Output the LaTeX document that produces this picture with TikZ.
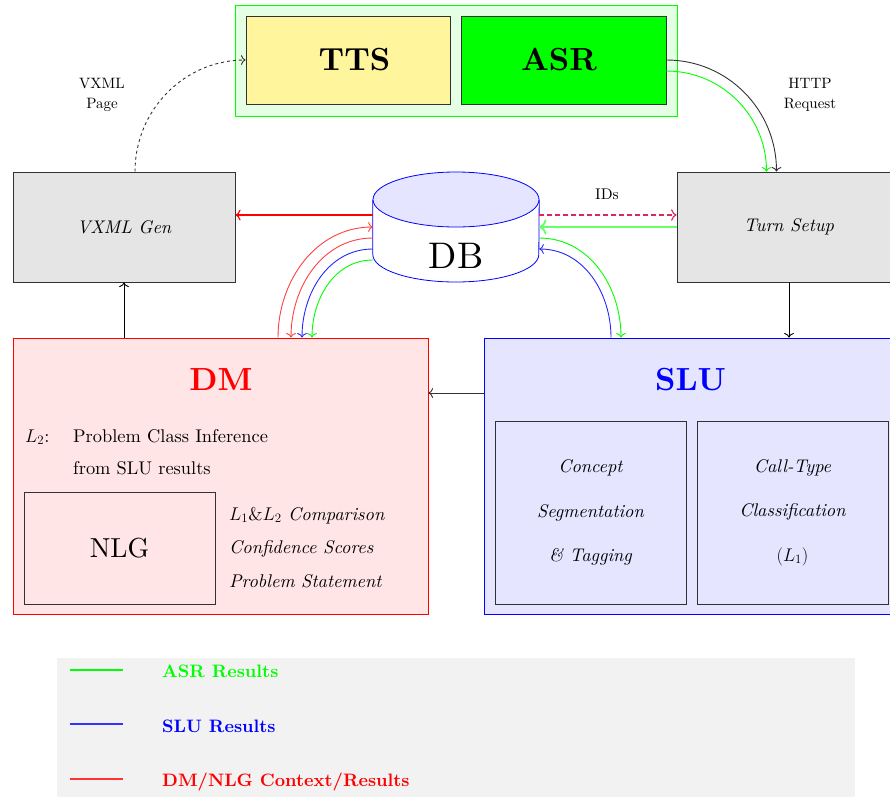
\RequirePackage{fix-cm}
\documentclass[tikz,border=0pt]{standalone}
\usepackage{fontspec}
\setmainfont{lmroman10-regular.otf}[
  BoldFont=lmroman10-bold.otf,
  ItalicFont=lmroman10-italic.otf,
  BoldItalicFont=lmroman10-bolditalic.otf]
\usetikzlibrary{calc,arrows.meta}
\definecolor{ttsyellow}{RGB}{255,245,157}
\definecolor{idred}{RGB}{220,40,90}
\definecolor{edge}{RGB}{50,50,50}
\begin{document}
\begin{tikzpicture}[x=1pt,y=-1pt,>={To[scale=1.3]},
  module/.style={draw=edge,line width=0.8pt,inner sep=0pt},
  titlefont/.style={font=\fontsize{32}{36}\selectfont\bfseries},
  boxit/.style={font=\fontsize{18.3}{20}\selectfont\itshape},
  itbody/.style={font=\fontsize{18.3}{44.5}\selectfont\itshape},
  dmtext/.style={font=\fontsize{18.4}{22}\selectfont,inner sep=0pt,anchor=base west},
  dmit/.style={font=\fontsize{18.4}{22}\selectfont\itshape,inner sep=0pt,anchor=base west},
  small/.style={font=\fontsize{15}{19.5}\selectfont,align=center},
  conn/.style={line width=0.9pt},
  gline/.style={conn,draw=green},
  bline/.style={conn,draw=blue!85},
  rline/.style={conn,draw=red!75},
  legline/.style={line width=1.2pt},
  legtext/.style={font=\fontsize{18}{20}\selectfont\bfseries,inner sep=0pt,anchor=base west}]
\useasboundingbox (0,0) rectangle (890,796);

% speech front end
\node[draw=green,fill=green!10,line width=0.8pt,minimum width=442pt,minimum height=111pt] (grp) at (456,60.5) {};
\node[module,fill=ttsyellow,minimum width=204pt,minimum height=88pt] (tts) at (348,60) {};
\node[module,fill=green,minimum width=205pt,minimum height=88pt] (asr) at (563.5,60) {};
\node[titlefont] (ttslabel) at (354.5,60) {TTS};
\node[titlefont] (asrlabel) at (559,60) {ASR};

% side boxes
\node[module,fill=gray!20,minimum width=222pt,minimum height=110pt,boxit] (vxml) at (124,227) {VXML Gen};
\node[module,fill=gray!20,minimum width=224pt,minimum height=110pt,boxit] (turn) at (789,227) {Turn Setup};

% database
\node[minimum width=166pt,minimum height=110pt,inner sep=0pt] (db) at (456,227) {};
\filldraw[draw=blue,fill=white,line width=0.8pt] ($(db.west)+(0,-27.5)$) -- ($(db.west)+(0,27.5)$)
  arc[start angle=180,end angle=360,x radius=83pt,y radius=27.5pt] -- ($(db.east)+(0,-27.5)$);
\filldraw[draw=blue,fill=blue!10,line width=0.8pt] ($(db.center)+(0,-27.5)$) ellipse[x radius=83pt,y radius=27.5pt];
\node[font=\fontsize{37}{40}\selectfont] (dbtxt) at (456,256) {DB};

% dialogue manager
\node[draw=red,fill=red!10,line width=0.8pt,minimum width=415pt,minimum height=276pt] (dm) at (220.5,476) {};
\node[titlefont,text=red] (dmtitle) at (221,380) {DM};
\node[dmtext] (l2) at (25,442) {$L_2$:};
\node[dmtext] (pci) at (73,442) {Problem Class Inference};
\node[dmtext] (fslu) at (73,474) {from SLU results};
\node[module,minimum width=191pt,minimum height=112pt,font=\fontsize{27.5}{30}\selectfont] (nlg) at (119.5,548) {NLG};
\node[dmit] (cmp) at (229,520) {$L_1\&L_2$ Comparison};
\node[dmit] (conf) at (229,553) {Confidence Scores};
\node[dmit] (stmt) at (229,587) {Problem Statement};

% understanding
\node[draw=blue,fill=blue!10,line width=0.8pt,minimum width=413pt,minimum height=276pt] (slu) at (690.5,476) {};
\node[titlefont,text=blue] (slutitle) at (690.5,380) {SLU};
\node[module,minimum width=191pt,minimum height=183pt,align=center,itbody] (concept) at (590.5,512.5) {Concept\\Segmentation\\\& Tagging};
\node[module,minimum width=191pt,minimum height=183pt,align=center,itbody] (ctype) at (792.5,512.5) {Call-Type\\Classification\\$(L_1)$};

% labels
\node[small] (vxlab) at (102,95) {VXML\\Page};
\node[small] (httplab) at (810,95) {HTTP\\Request};
\node[font=\fontsize{15.5}{17}\selectfont] (idlab) at (607,194) {IDs};

% control flow
\draw[conn,->,draw=edge,dashed] ([xshift=11pt]vxml.north) to[out=90,in=180] (tts.west);
\draw[conn,->,draw=edge] (asr.east) to[out=0,in=90] ([xshift=-12.5pt]turn.north);
\draw[gline,->] ([yshift=-11pt]asr.east) to[out=0,in=90] ([xshift=-22.5pt]turn.north);
\draw[conn,->,draw=black] (turn.south) -- (turn.south |- slu.north);
\draw[conn,->,draw=edge] ([yshift=83pt]slu.west) -- ([yshift=83pt]dm.east);
\draw[conn,->,draw=black] (vxml.south |- dm.north) -- (vxml.south);

% database traffic
\draw[->,draw=red,line width=1.1pt] ([yshift=12pt]db.west) -- ([yshift=12pt]vxml.east);
\draw[->,draw=idred,line width=1.2pt,dash pattern=on 5pt off 3pt] ([yshift=12pt]db.east) -- ([yshift=12pt]turn.west);
\draw[->,draw=green!60,line width=1.8pt] (turn.west) -- (db.east);
\draw[rline,->] ([xshift=57.5pt]dm.north) to[out=90,in=180] (db.west);
\draw[rline,->] ([yshift=-11pt]db.west) to[out=180,in=90] ([xshift=70.5pt]dm.north);
\draw[bline,->] ([yshift=-22pt]db.west) to[out=180,in=90] ([xshift=81.5pt]dm.north);
\draw[gline,->] ([yshift=-33pt]db.west) to[out=180,in=90] ([xshift=91.5pt]dm.north);
\draw[gline,->] ([yshift=-11pt]db.east) to[out=0,in=90] ([xshift=-69.5pt]slu.north);
\draw[bline,->] ([xshift=-79.5pt]slu.north) to[out=90,in=0] ([yshift=-22pt]db.east);

% legend
\node[fill=gray!10,minimum width=798pt,minimum height=142pt,inner sep=0pt] (legend) at (456,729) {};
\coordinate (la1) at (70,670); \coordinate (lb1) at (123,670);
\coordinate (la2) at (70,724); \coordinate (lb2) at (123,724);
\coordinate (la3) at (70,779); \coordinate (lb3) at (123,779);
\draw[legline,draw=green] (la1) -- (lb1);
\draw[legline,draw=blue!80] (la2) -- (lb2);
\draw[legline,draw=red!80] (la3) -- (lb3);
\node[legtext,text=green] (lt1) at (162,677) {ASR Results};
\node[legtext,text=blue] (lt2) at (162,732) {SLU Results};
\node[legtext,text=red] (lt3) at (162,786) {DM/NLG Context/Results};
\end{tikzpicture}
\end{document}
